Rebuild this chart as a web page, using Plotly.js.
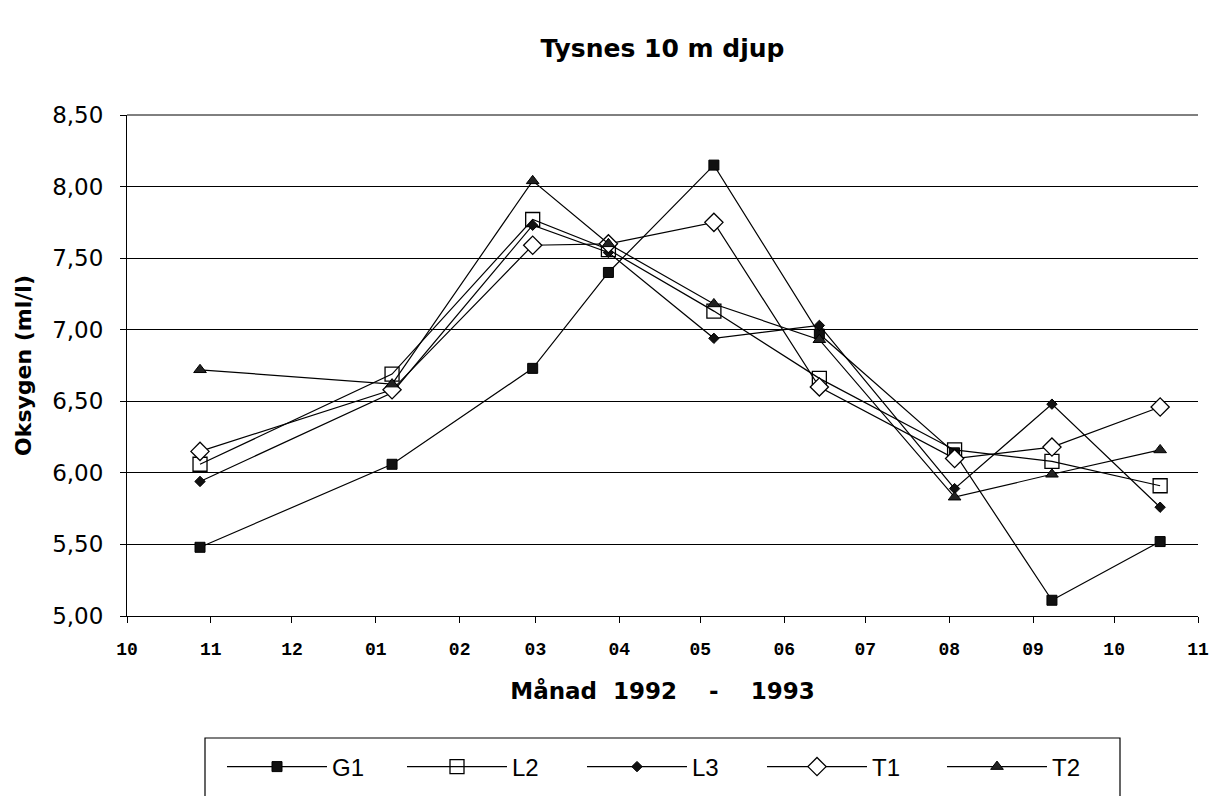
<!DOCTYPE html>
<html>
<head>
<meta charset="utf-8">
<script src="https://cdn.plot.ly/plotly-3.0.1.min.js"></script>
<style>html,body{margin:0;padding:0;background:#fff;}#chart{width:1214px;height:796px;}</style>
</head>
<body>
<div id="chart"></div>
<script>
// Sampling dates (x positions)
const dates = ['1992-10-28','1993-01-07','1993-02-28','1993-03-28','1993-05-06','1993-06-14','1993-08-03','1993-09-08','1993-10-18'];
// Oxygen (ml/l) per station
const G1 = [5.48, 6.06, 6.73, 7.40, 8.15, 6.97, 6.14, 5.11, 5.52];
const L2 = [6.06, 6.69, 7.77, 7.56, 7.13, 6.66, 6.16, 6.08, 5.91];
const L3 = [5.94, 6.56, 7.73, 7.54, 6.94, 7.03, 5.89, 6.48, 5.76];
const T1 = [6.15, 6.58, 7.59, 7.60, 7.75, 6.60, 6.10, 6.18, 6.46];
const T2 = [6.72, 6.62, 8.04, 7.60, 7.18, 6.93, 5.83, 5.99, 6.16];
const seriesNames = ['G1','L2','L3','T1','T2'];
const titleText = 'Tysnes 10 m djup';
const xTitle = 'Månad&nbsp;&nbsp;1992&nbsp;&nbsp;&nbsp;&nbsp;-&nbsp;&nbsp;&nbsp;&nbsp;1993';
const yTitle = 'Oksygen (ml/l)';

const lineStyle = {color:'#000', width:1.2};
const markers = [
  {symbol:'square', size:10, color:'#111', line:{color:'#000', width:1}},
  {symbol:'square-open', size:14, color:'#000', line:{width:1.3}},
  {symbol:'diamond', size:8, color:'#111', line:{color:'#000', width:1}},
  {symbol:'diamond', size:14, color:'#fff', line:{color:'#000', width:1.3}},
  {symbol:'triangle-up', size:11, color:'#222', line:{color:'#000', width:1}}
];
const values = [G1, L2, L3, T1, T2];
const traces = values.map((v,i)=>({
  x: dates, y: v, name: seriesNames[i], type:'scatter', mode:'lines+markers',
  line: lineStyle, marker: markers[i], cliponaxis:false
}));

const layout = {
  width:1214, height:796,
  margin:{l:127, r:16, t:115, b:180},
  paper_bgcolor:'#fff', plot_bgcolor:'#fff',
  separators:', ',
  font:{family:'DejaVu Sans', color:'#000'},
  title:{text:'<b>'+titleText+'</b>', font:{family:'DejaVu Sans', size:25, color:'#000'},
         xref:'paper', x:0.5, xanchor:'center', yref:'container', y:1-48/796, yanchor:'middle'},
  xaxis:{type:'date', range:['1992-10-01','1993-11-01'], dtick:'M1', tick0:'1992-10-01',
         tickformat:'%m', ticks:'outside', ticklen:6, tickcolor:'#000', tickwidth:1,
         ticklabelstandoff:10,
         showline:true, linecolor:'#000', linewidth:1, showgrid:false, zeroline:false,
         tickfont:{family:'Liberation Mono', size:18, color:'#000', weight:'bold'},
         title:{text:'<b>'+xTitle+'</b>', font:{family:'DejaVu Sans', size:23, color:'#000'}, standoff:24}},
  yaxis:{range:[5, 8.5], dtick:0.5, tick0:5, tickformat:'.2f', ticks:'outside', ticklen:6,
         tickcolor:'#000', showline:true, linecolor:'#000', linewidth:1,
         ticklabelstandoff:12,
         showgrid:true, gridcolor:'#000', gridwidth:1, zeroline:false,
         tickfont:{family:'DejaVu Sans', size:23, color:'#000'},
         title:{text:'<b>'+yTitle+'</b>', font:{family:'DejaVu Sans', size:22, color:'#000'}, standoff:14}},
  showlegend:true,
  legend:{orientation:'h', xref:'container', yref:'container', x:222/1214, xanchor:'left',
          y:1-767/796, yanchor:'middle', entrywidth:65, entrywidthmode:'pixels', itemwidth:100,
          font:{family:'Liberation Sans', size:24, color:'#000'}, bgcolor:'rgba(0,0,0,0)', borderwidth:0},
  shapes:[
    {type:'line', xref:'paper', yref:'paper', x0:0, x1:1, y0:1, y1:1, line:{color:'#000', width:1}},
    {type:'rect', xref:'paper', yref:'paper', x0:(205-127)/1071, x1:(1120-127)/1071,
     y0:(616-738)/501, y1:(616-820)/501, line:{color:'#000', width:1.2}, fillcolor:'rgba(0,0,0,0)'}
  ]
};

Plotly.newPlot('chart', traces, layout, {displayModeBar:false, staticPlot:true});
</script>
</body>
</html>
